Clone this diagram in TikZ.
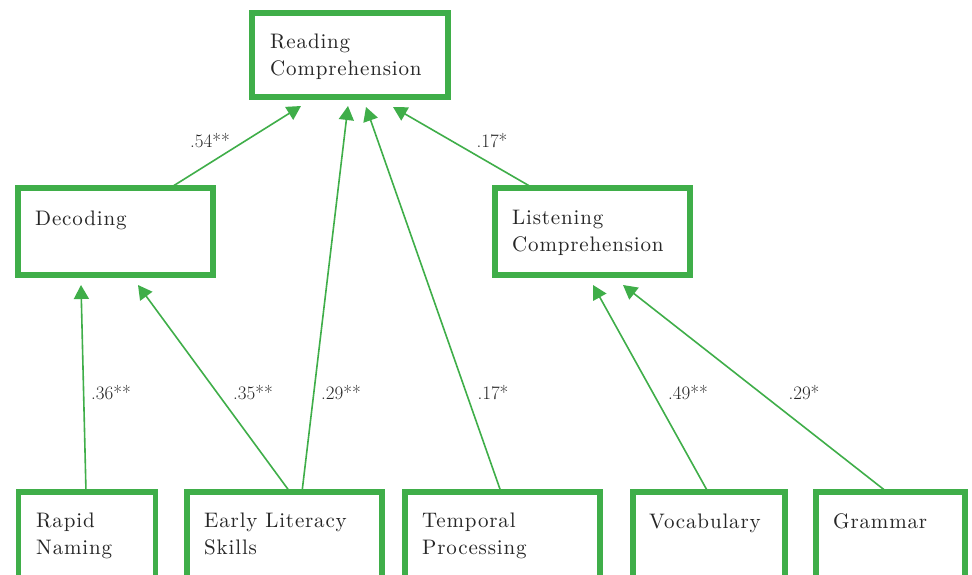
\documentclass[tikz,border=0pt]{standalone}
\usepackage{fontspec}
\usetikzlibrary{arrows.meta,calc}
\newfontfamily\boxfont{lmroman10-regular}[Extension=.otf, LetterSpace=4]
\definecolor{pathgreen}{HTML}{3FAE49}
\definecolor{inkgray}{HTML}{262626}
\tikzset{
  box/.style={draw=pathgreen, line width=5.5pt, outer sep=0pt, inner sep=0pt,
    anchor=north west, rectangle},
  boxtext/.style={anchor=base west, inner sep=0pt, align=left, text=inkgray,
    font={\boxfont\fontsize{21}{26.5}\selectfont}},
  coef/.style={inner sep=0pt, text=inkgray, font={\fontsize{19}{22}\selectfont}},
  path arrow/.style={draw=pathgreen, line width=1.6pt,
    -{Triangle[length=14pt,width=15pt]}},
}
\begin{document}
\begin{tikzpicture}[x=1pt, y=-1pt]
\clip (0,0) rectangle (972,574);
\fill[white] (0,0) rectangle (972,574);

% boxes (top-left corner on the border's centre line)
\node[box, minimum width=196pt, minimum height=84pt] (rc)  at (252,13)  {};
\node[box, minimum width=195pt, minimum height=87pt] (dec) at (18,188)  {};
\node[box, minimum width=195pt, minimum height=87pt] (lc)  at (495,188) {};
\node[box, minimum width=137pt, minimum height=120pt] (rn)  at (18.5,492) {};
\node[box, minimum width=195pt, minimum height=120pt] (els) at (187,492) {};
\node[box, minimum width=195pt, minimum height=120pt] (tp)  at (405,492) {};
\node[box, minimum width=152pt, minimum height=120pt] (voc) at (633,492) {};
\node[box, minimum width=149pt, minimum height=120pt] (gr)  at (816,492) {};

% box texts (base anchor sits on the last line)
\node[boxtext] (rct)  at ($(rc.north west)+(18,62)$)   {Reading\\Comprehension};
\node[boxtext] (dect) at ($(dec.north west)+(17,37)$)  {Decoding};
\node[boxtext] (lct)  at ($(lc.north west)+(17,63)$)   {Listening\\Comprehension};
\node[boxtext] (rnt)  at ($(rn.north west)+(17.5,62)$) {Rapid\\Naming};
\node[boxtext] (elst) at ($(els.north west)+(17,62)$)  {Early Literacy\\Skills};
\node[boxtext] (tpt)  at ($(tp.north west)+(17,62)$)   {Temporal\\Processing};
\node[boxtext] (voct) at ($(voc.north west)+(16,36)$)  {Vocabulary};
\node[boxtext] (grt)  at ($(gr.north west)+(17,36)$)   {Grammar};

% paths into Reading Comprehension
\draw[path arrow] ($(dec.north west)+(152,0)$) -- ($(rc.south west)+(49,9)$);
\draw[path arrow] ($(els.north west)+(115,0)$) -- ($(rc.south west)+(96,9)$);
\draw[path arrow] ($(tp.north west)+(96,0)$)   -- ($(rc.south west)+(114,10)$);
\draw[path arrow] ($(lc.north west)+(38,0)$)   -- ($(rc.south west)+(141,10)$);
% paths into Decoding
\draw[path arrow] ($(rn.north west)+(67.5,0)$) -- ($(dec.south west)+(63,10)$);
\draw[path arrow] ($(els.north west)+(103,0)$) -- ($(dec.south west)+(120,10)$);
% paths into Listening Comprehension
\draw[path arrow] ($(voc.north west)+(75,0)$)  -- ($(lc.south west)+(98,10)$);
\draw[path arrow] ($(gr.north west)+(71,0)$)   -- ($(lc.south west)+(128,10)$);

% path coefficients
\node[coef] (c1) at (210,141) {.54**};
\node[coef] (c2) at (492,141) {.17*};
\node[coef] (c3) at (111,393) {.36**};
\node[coef] (c4) at (253,393) {.35**};
\node[coef] (c5) at (341,393) {.29**};
\node[coef] (c6) at (493,393) {.17*};
\node[coef] (c7) at (688,393) {.49**};
\node[coef] (c8) at (804,393) {.29*};
\end{tikzpicture}
\end{document}
